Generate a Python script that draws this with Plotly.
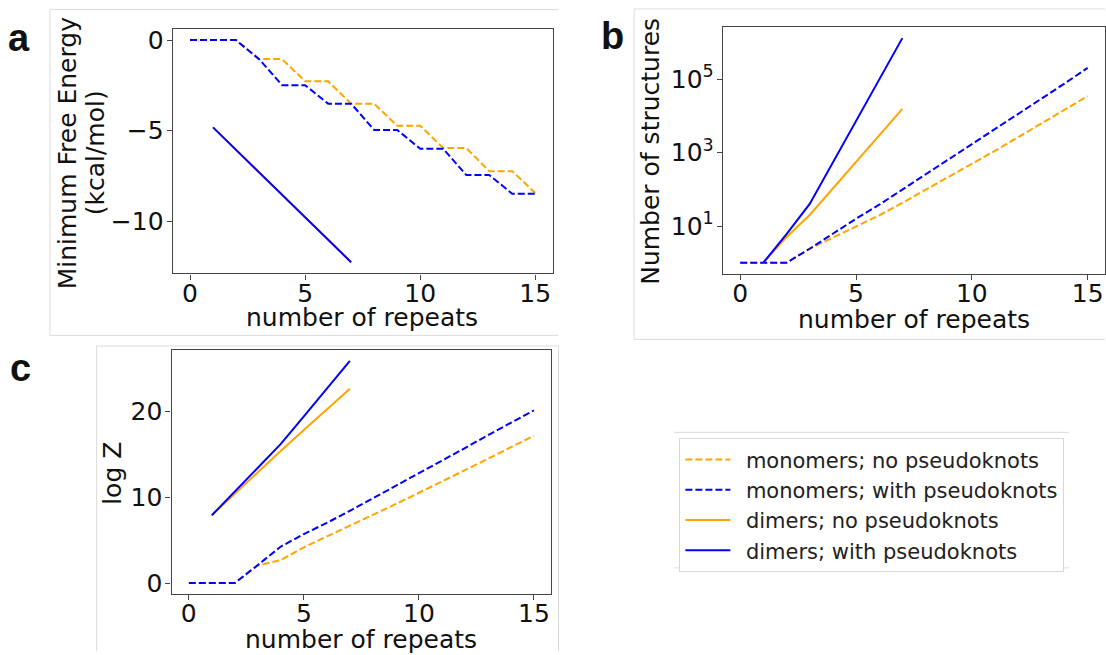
import plotly.graph_objects as go

W, H = 1106, 655

# ---------------- data ----------------
repeats_mono = list(range(0, 16))
repeats_dim = list(range(1, 8))

# panel a: minimum free energy (kcal/mol)
mfe_mono_nopk = [0, 0, 0, -1.05, -1.05, -2.27, -2.27, -3.51, -3.51, -4.73, -4.73, -5.96, -5.96, -7.24, -7.24, -8.45]
mfe_mono_pk = [0, 0, 0, -1.05, -2.49, -2.49, -3.51, -3.51, -4.96, -4.96, -6.0, -6.0, -7.45, -7.45, -8.49, -8.49]
mfe_dim_nopk = [-4.82, -6.06, -7.30, -8.55, -9.79, -11.03, -12.27]
mfe_dim_pk = [-4.82, -6.06, -7.30, -8.55, -9.79, -11.03, -12.27]

# panel b: number of structures
ns_mono_nopk = [1, 1, 1, 2.4, 4.8, 9.5, 19.5, 42.7, 95.5, 214, 479, 1122, 2630, 6166, 14790, 34670]
ns_mono_pk = [1, 1, 1, 2.4, 6.3, 15.8, 38, 98, 251, 646, 1660, 4266, 11220, 28840, 75860, 204200]
ns_dim_nopk = [1, 5.0, 20, 107, 575, 3020, 15490]
ns_dim_pk = [1, 6.0, 40, 537, 7244, 95500, 1318000]

# panel c: log Z
lz_mono_nopk = [0, 0, 0, 2.05, 2.68, 4.15, 5.4, 6.65, 7.93, 9.2, 10.5, 11.8, 13.1, 14.45, 15.8, 17.13]
lz_mono_pk = [0, 0, 0, 2.1, 4.24, 5.7, 7.0, 8.4, 9.85, 11.3, 12.75, 14.2, 15.7, 17.2, 18.65, 20.1]
lz_dim_nopk = [7.88, 10.4, 12.9, 15.4, 17.8, 20.2, 22.6]
lz_dim_pk = [7.88, 10.65, 13.4, 16.18, 19.4, 22.6, 25.85]

series_names = ["monomers; no pseudoknots", "monomers; with pseudoknots",
                "dimers; no pseudoknots", "dimers; with pseudoknots"]
xticks = [0, 5, 10, 15]
b_tickvals = [10, 1000, 100000]
b_ticktext = ["10<sup>1</sup>", "10<sup>3</sup>", "10<sup>5</sup>"]

ORANGE = "#FFA500"
BLUE = "#0000FF"
FONT = "DejaVu Sans"
TXT = "#111111"
SPINE = "#444444"

styles = [
    dict(color=ORANGE, dash="7px,3px"),
    dict(color=BLUE, dash="7px,3px"),
    dict(color=ORANGE, dash="solid"),
    dict(color=BLUE, dash="solid"),
]

fig = go.Figure()

panels = [
    ("x", "y", [(repeats_mono, mfe_mono_nopk), (repeats_mono, mfe_mono_pk),
                (repeats_dim, mfe_dim_nopk), (repeats_dim, mfe_dim_pk)], False),
    ("x2", "y2", [(repeats_mono, ns_mono_nopk), (repeats_mono, ns_mono_pk),
                  (repeats_dim, ns_dim_nopk), (repeats_dim, ns_dim_pk)], False),
    ("x3", "y3", [(repeats_mono, lz_mono_nopk), (repeats_mono, lz_mono_pk),
                  (repeats_dim, lz_dim_nopk), (repeats_dim, lz_dim_pk)], True),
]

for xa, ya, data, show in panels:
    for i, (xs, ys) in enumerate(data):
        fig.add_trace(go.Scatter(
            x=xs, y=ys, mode="lines", xaxis=xa, yaxis=ya,
            name="\u2002" + series_names[i], legendgroup=series_names[i], showlegend=show,
            line=dict(color=styles[i]["color"], dash=styles[i]["dash"], width=2),
            hoverinfo="skip",
        ))

def px_x(p):
    return p / W

def px_y(p):
    return 1 - p / H

axis_common = dict(
    showline=True, mirror=True, linecolor=SPINE, linewidth=1.3,
    ticks="outside", ticklen=5, tickwidth=1.2, tickcolor=SPINE,
    showgrid=False, zeroline=False,
    tickfont=dict(family=FONT, size=25, color=TXT),
)
xaxis_common = dict(axis_common, ticklabelstandoff=-8)
yaxis_common = dict(axis_common, ticklabelstandoff=-2)

fig.update_layout(
    width=W, height=H,
    margin=dict(l=0, r=0, t=0, b=0),
    paper_bgcolor="white", plot_bgcolor="white",
    showlegend=True,
    xaxis=dict(domain=[px_x(172.9), px_x(553.0)], range=[-0.75, 15.75],
               tickvals=xticks, anchor="y", **xaxis_common),
    yaxis=dict(domain=[px_y(273.3), px_y(26.0)], range=[-12.89, 0.63],
               tickvals=[0, -5, -10], anchor="x", **yaxis_common),
    xaxis2=dict(domain=[px_x(723.5), 1.0], range=[-0.75, 15.75],
                tickvals=xticks, anchor="y2", **xaxis_common),
    yaxis2=dict(domain=[px_y(274.0), px_y(24.0)], type="log", range=[-0.31, 6.43],
                tickvals=b_tickvals, ticktext=b_ticktext, anchor="x2", **yaxis_common),
    xaxis3=dict(domain=[px_x(171.7), px_x(551.7)], range=[-0.75, 15.75],
                tickvals=xticks, anchor="y3", **xaxis_common),
    yaxis3=dict(domain=[px_y(597.5), px_y(350.5)], range=[-1.29, 27.14],
                tickvals=[0, 10, 20], anchor="x3", **yaxis_common),
    legend=dict(
        x=px_x(680), y=px_y(440), xanchor="left", yanchor="top",
        bgcolor="white", bordercolor="#d8d8d8", borderwidth=1,
        font=dict(family=FONT, size=21, color="#222222"),
        traceorder="grouped", tracegroupgap=0, itemwidth=45,
    ),
)

annotations = []

def ann(text, x, y, size=25, angle=0, bold=False, family=FONT):
    annotations.append(dict(
        text=f"<b>{text}</b>" if bold else text,
        x=px_x(x), y=px_y(y), xref="paper", yref="paper",
        xanchor="center", yanchor="middle", showarrow=False,
        textangle=angle, font=dict(family=family, size=size, color=TXT),
    ))

# axis titles
ann("Minimum Free Energy", 67, 151, angle=-90)
ann("(kcal/mol)", 95, 151, angle=-90)
ann("number of repeats", 362, 318)
ann("Number of structures", 651, 150, angle=-90)
ann("number of repeats", 914.6, 320)
ann("log Z", 113, 475, angle=-90)
ann("number of repeats", 361.3, 643)

# panel letters
ann("a", 19.5, 35, size=38, bold=True, family="Liberation Sans")
ann("b", 613, 33, size=38, bold=True, family="Liberation Sans")
ann("c", 21, 369, size=38, bold=True, family="Liberation Sans")

fig.update_layout(annotations=annotations)

# faint frames of the composited sub-figures
FRAME = "#dcdcdc"
frame_lines = [
    # panel a
    (50, 6.5, 50, 336), (50, 6.5, 559, 6.5), (50, 336, 559, 336),
    # panel b
    (634.7, 6, 634.7, 340), (634.7, 6, 1106, 6), (634.7, 340, 1106, 340),
    # panel c
    (96.7, 346.7, 96.7, 655), (96.7, 346.7, 559, 346.7), (559, 346.7, 559, 655),
    # legend image
    (675, 434, 1070, 434), (675, 571, 1070, 571),
]
shapes = []
for x0, y0, x1, y1 in frame_lines:
    shapes.append(dict(type="line", xref="paper", yref="paper",
                       x0=px_x(x0), y0=px_y(y0), x1=px_x(x1), y1=px_y(y1),
                       line=dict(color=FRAME, width=1), layer="below"))
fig.update_layout(shapes=shapes)

fig.write_html("out.html")
